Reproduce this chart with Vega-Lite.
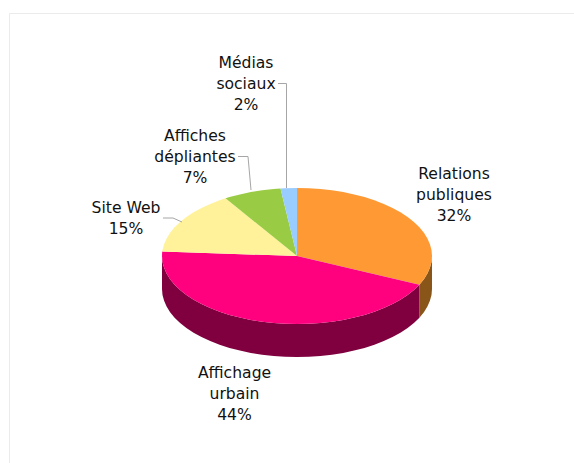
{"$schema":"https://vega.github.io/schema/vega-lite/v6.json","width":574,"height":463,"autosize":"none","padding":0,"background":"white","view":{"stroke":null},
"datasets":{
"sides":[
{"s":"Relations publiques","x":419.4,"y":284.7,"y2":317.7},{"s":"Relations publiques","x":423.9,"y":279.3,"y2":312.3},{"s":"Relations publiques","x":427.4,"y":273.6,"y2":306.6},{"s":"Relations publiques","x":429.9,"y":267.8,"y2":300.8},{"s":"Relations publiques","x":431.5,"y":261.9,"y2":294.9},{"s":"Relations publiques","x":432,"y":256,"y2":289},
{"s":"Affichage urbain","x":162,"y":256,"y2":289},{"s":"Affichage urbain","x":162.5,"y":261.9,"y2":294.9},{"s":"Affichage urbain","x":164.1,"y":267.8,"y2":300.8},{"s":"Affichage urbain","x":166.6,"y":273.6,"y2":306.6},{"s":"Affichage urbain","x":170.1,"y":279.3,"y2":312.3},{"s":"Affichage urbain","x":174.6,"y":284.7,"y2":317.7},{"s":"Affichage urbain","x":180.1,"y":290,"y2":323},{"s":"Affichage urbain","x":186.4,"y":295,"y2":328},{"s":"Affichage urbain","x":193.6,"y":299.7,"y2":332.7},{"s":"Affichage urbain","x":201.5,"y":304.1,"y2":337.1},{"s":"Affichage urbain","x":210.2,"y":308.1,"y2":341.1},{"s":"Affichage urbain","x":219.6,"y":311.7,"y2":344.7},{"s":"Affichage urbain","x":229.5,"y":314.9,"y2":347.9},{"s":"Affichage urbain","x":239.9,"y":317.6,"y2":350.6},{"s":"Affichage urbain","x":250.8,"y":319.9,"y2":352.9},{"s":"Affichage urbain","x":262.1,"y":321.7,"y2":354.7},{"s":"Affichage urbain","x":273.6,"y":323,"y2":356},{"s":"Affichage urbain","x":285.2,"y":323.7,"y2":356.7},{"s":"Affichage urbain","x":297,"y":324,"y2":357},{"s":"Affichage urbain","x":308.8,"y":323.7,"y2":356.7},{"s":"Affichage urbain","x":320.4,"y":323,"y2":356},{"s":"Affichage urbain","x":331.9,"y":321.7,"y2":354.7},{"s":"Affichage urbain","x":343.2,"y":319.9,"y2":352.9},{"s":"Affichage urbain","x":354.1,"y":317.6,"y2":350.6},{"s":"Affichage urbain","x":364.5,"y":314.9,"y2":347.9},{"s":"Affichage urbain","x":374.4,"y":311.7,"y2":344.7},{"s":"Affichage urbain","x":383.8,"y":308.1,"y2":341.1},{"s":"Affichage urbain","x":392.5,"y":304.1,"y2":337.1},{"s":"Affichage urbain","x":400.4,"y":299.7,"y2":332.7},{"s":"Affichage urbain","x":407.6,"y":295,"y2":328},{"s":"Affichage urbain","x":413.9,"y":290,"y2":323},{"s":"Affichage urbain","x":419.4,"y":284.7,"y2":317.7}
],
"slices":[
{"s":"Relations publiques","i":0,"x":297,"y":256},{"s":"Relations publiques","i":1,"x":297,"y":188},{"s":"Relations publiques","i":2,"x":308.8,"y":188.3},{"s":"Relations publiques","i":3,"x":320.4,"y":189},{"s":"Relations publiques","i":4,"x":331.9,"y":190.3},{"s":"Relations publiques","i":5,"x":343.2,"y":192.1},{"s":"Relations publiques","i":6,"x":354.1,"y":194.4},{"s":"Relations publiques","i":7,"x":364.5,"y":197.1},{"s":"Relations publiques","i":8,"x":374.4,"y":200.3},{"s":"Relations publiques","i":9,"x":383.8,"y":203.9},{"s":"Relations publiques","i":10,"x":392.5,"y":207.9},{"s":"Relations publiques","i":11,"x":400.4,"y":212.3},{"s":"Relations publiques","i":12,"x":407.6,"y":217},{"s":"Relations publiques","i":13,"x":413.9,"y":222},{"s":"Relations publiques","i":14,"x":419.4,"y":227.3},{"s":"Relations publiques","i":15,"x":423.9,"y":232.7},{"s":"Relations publiques","i":16,"x":427.4,"y":238.4},{"s":"Relations publiques","i":17,"x":429.9,"y":244.2},{"s":"Relations publiques","i":18,"x":431.5,"y":250.1},{"s":"Relations publiques","i":19,"x":432,"y":256},{"s":"Relations publiques","i":20,"x":431.5,"y":261.9},{"s":"Relations publiques","i":21,"x":429.9,"y":267.8},{"s":"Relations publiques","i":22,"x":427.4,"y":273.6},{"s":"Relations publiques","i":23,"x":423.9,"y":279.3},{"s":"Relations publiques","i":24,"x":419.4,"y":284.7},
{"s":"Affichage urbain","i":0,"x":297,"y":256},{"s":"Affichage urbain","i":1,"x":419.4,"y":284.7},{"s":"Affichage urbain","i":2,"x":413.9,"y":290},{"s":"Affichage urbain","i":3,"x":407.6,"y":295},{"s":"Affichage urbain","i":4,"x":400.4,"y":299.7},{"s":"Affichage urbain","i":5,"x":392.5,"y":304.1},{"s":"Affichage urbain","i":6,"x":383.8,"y":308.1},{"s":"Affichage urbain","i":7,"x":374.4,"y":311.7},{"s":"Affichage urbain","i":8,"x":364.5,"y":314.9},{"s":"Affichage urbain","i":9,"x":354.1,"y":317.6},{"s":"Affichage urbain","i":10,"x":343.2,"y":319.9},{"s":"Affichage urbain","i":11,"x":331.9,"y":321.7},{"s":"Affichage urbain","i":12,"x":320.4,"y":323},{"s":"Affichage urbain","i":13,"x":308.8,"y":323.7},{"s":"Affichage urbain","i":14,"x":297,"y":324},{"s":"Affichage urbain","i":15,"x":285.2,"y":323.7},{"s":"Affichage urbain","i":16,"x":273.6,"y":323},{"s":"Affichage urbain","i":17,"x":262.1,"y":321.7},{"s":"Affichage urbain","i":18,"x":250.8,"y":319.9},{"s":"Affichage urbain","i":19,"x":239.9,"y":317.6},{"s":"Affichage urbain","i":20,"x":229.5,"y":314.9},{"s":"Affichage urbain","i":21,"x":219.6,"y":311.7},{"s":"Affichage urbain","i":22,"x":210.2,"y":308.1},{"s":"Affichage urbain","i":23,"x":201.5,"y":304.1},{"s":"Affichage urbain","i":24,"x":193.6,"y":299.7},{"s":"Affichage urbain","i":25,"x":186.4,"y":295},{"s":"Affichage urbain","i":26,"x":180.1,"y":290},{"s":"Affichage urbain","i":27,"x":174.6,"y":284.7},{"s":"Affichage urbain","i":28,"x":170.1,"y":279.3},{"s":"Affichage urbain","i":29,"x":166.6,"y":273.6},{"s":"Affichage urbain","i":30,"x":164.1,"y":267.8},{"s":"Affichage urbain","i":31,"x":162.5,"y":261.9},{"s":"Affichage urbain","i":32,"x":162,"y":256},{"s":"Affichage urbain","i":33,"x":162.2,"y":251.5},
{"s":"Site Web","i":0,"x":297,"y":256},{"s":"Site Web","i":1,"x":162.2,"y":251.5},{"s":"Site Web","i":2,"x":162.5,"y":250.1},{"s":"Site Web","i":3,"x":164.1,"y":244.2},{"s":"Site Web","i":4,"x":166.6,"y":238.4},{"s":"Site Web","i":5,"x":170.1,"y":232.7},{"s":"Site Web","i":6,"x":174.6,"y":227.3},{"s":"Site Web","i":7,"x":180.1,"y":222},{"s":"Site Web","i":8,"x":186.4,"y":217},{"s":"Site Web","i":9,"x":193.6,"y":212.3},{"s":"Site Web","i":10,"x":201.5,"y":207.9},{"s":"Site Web","i":11,"x":210.2,"y":203.9},{"s":"Site Web","i":12,"x":219.6,"y":200.3},{"s":"Site Web","i":13,"x":225.5,"y":198.3},
{"s":"Affiches dépliantes","i":0,"x":297,"y":256},{"s":"Affiches dépliantes","i":1,"x":225.5,"y":198.3},{"s":"Affiches dépliantes","i":2,"x":229.5,"y":197.1},{"s":"Affiches dépliantes","i":3,"x":239.9,"y":194.4},{"s":"Affiches dépliantes","i":4,"x":250.8,"y":192.1},{"s":"Affiches dépliantes","i":5,"x":262.1,"y":190.3},{"s":"Affiches dépliantes","i":6,"x":273.6,"y":189},{"s":"Affiches dépliantes","i":7,"x":280.5,"y":188.5},
{"s":"Médias sociaux","i":0,"x":297,"y":256},{"s":"Médias sociaux","i":1,"x":280.5,"y":188.5},{"s":"Médias sociaux","i":2,"x":285.2,"y":188.3},{"s":"Médias sociaux","i":3,"x":297,"y":188}
],
"lines":[
{"k":"frame","i":0,"x":9.5,"y":463},{"k":"frame","i":1,"x":9.5,"y":13.5},{"k":"frame","i":2,"x":574,"y":13.5}
],
"leaders":[
{"k":"m","i":0,"x":278,"y":83.5},{"k":"m","i":1,"x":286.5,"y":83.5},{"k":"m","i":2,"x":286.5,"y":188},
{"k":"a","i":0,"x":238,"y":156.5},{"k":"a","i":1,"x":248,"y":156.5},{"k":"a","i":2,"x":251,"y":190},
{"k":"s","i":0,"x":163,"y":218},{"k":"s","i":1,"x":173,"y":218},{"k":"s","i":2,"x":182,"y":222}
],
"labels":[
{"t":"Relations\npubliques\n32%","x":454,"y":174},
{"t":"Affichage\nurbain\n44%","x":234.5,"y":373},
{"t":"Site Web\n15%","x":126,"y":208},
{"t":"Affiches\ndépliantes\n7%","x":195,"y":136},
{"t":"Médias\nsociaux\n2%","x":246,"y":63}
]},
"encoding":{
"x":{"field":"x","type":"quantitative","axis":null,"scale":{"domain":[0,574],"nice":false,"zero":false}},
"y":{"field":"y","type":"quantitative","axis":null,"scale":{"domain":[463,0],"nice":false,"zero":false}}
},
"layer":[
{"data":{"name":"lines"},"mark":{"type":"line","stroke":"#ebebeb","strokeWidth":1},"encoding":{"order":{"field":"i","type":"quantitative"}}},
{"data":{"name":"sides"},"mark":{"type":"area","line":false,"opacity":1},"encoding":{"y2":{"field":"y2"},"color":{"field":"s","type":"nominal","legend":null,"scale":{"domain":["Relations publiques","Affichage urbain"],"range":["#8a5518","#80003f"]}}}},
{"data":{"name":"slices"},"mark":{"type":"line","strokeWidth":0,"interpolate":"linear"},"encoding":{"order":{"field":"i","type":"quantitative"},"detail":{"field":"s"},"fill":{"field":"s","type":"nominal","legend":null,"scale":{"domain":["Relations publiques","Affichage urbain","Site Web","Affiches dépliantes","Médias sociaux"],"range":["#ff9933","#ff007f","#fff29b","#99cc44","#99ccff"]}}}},
{"data":{"name":"leaders"},"mark":{"type":"line","stroke":"#a6a6a6","strokeWidth":1},"encoding":{"detail":{"field":"k"},"order":{"field":"i","type":"quantitative"}}},
{"data":{"name":"labels"},"mark":{"type":"text","font":"DejaVu Sans","fontSize":15.6,"lineHeight":21,"lineBreak":"\n","align":"center","baseline":"middle","color":"#111111"},"encoding":{"text":{"field":"t"}}}
]}
